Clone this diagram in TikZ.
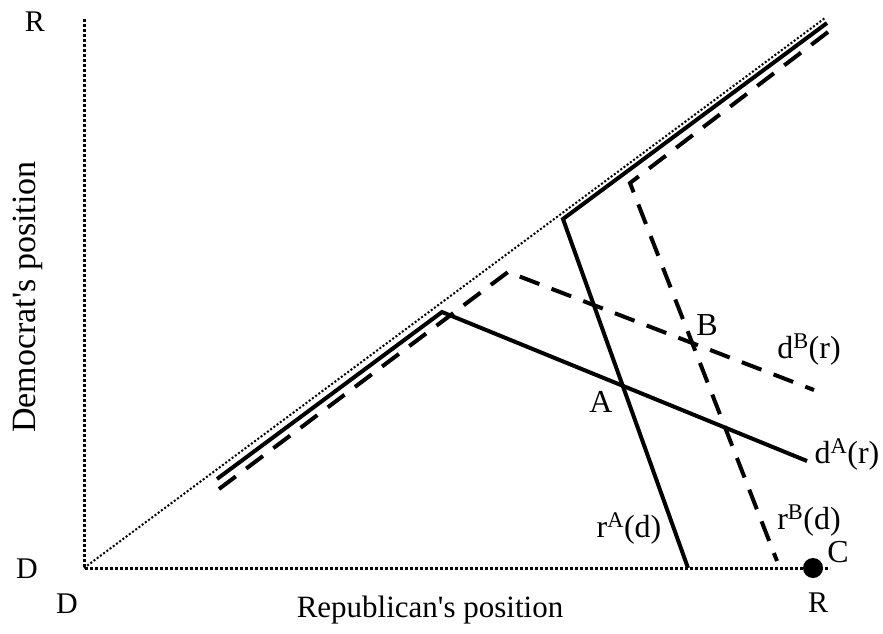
\documentclass[tikz,border=0pt]{standalone}
\usepackage{fontspec}
\setmainfont{Liberation Serif}[Ligatures=TeXOff]
\begin{document}
\begin{tikzpicture}[x=1pt,y=-1pt,
  axisline/.style={line width=3pt, dash pattern=on 3.2pt off 1.8pt},
  diagline/.style={line width=2pt, dash pattern=on 2pt off 2pt},
  bestsolid/.style={line width=4pt, line join=miter},
  bestdashed/.style={line width=4pt, dash pattern=on 21pt off 13pt},
  lbl/.style={inner sep=0pt, anchor=base, font=\fontsize{32}{34}\selectfont},
  cornerlbl/.style={inner sep=0pt, anchor=base, font=\fontsize{30}{32}\selectfont},
  axlbl/.style={inner sep=0pt, anchor=base, font=\fontsize{31}{34}\selectfont}]
\useasboundingbox (0,0) rectangle (883,633);
% axes
\coordinate (O) at (84,568);
\coordinate (Ytop) at (84,19);
\coordinate (Xend) at (830,568);
\coordinate (Dtop) at (825,18);
\draw[axisline] (Ytop) -- (O) -- (Xend);
\draw[diagline] (O) -- (Dtop);
% solid d^A(r)
\coordinate (a1) at (217,479);
\coordinate (a2) at (442,312);
\coordinate (a3) at (807,461);
\draw[bestsolid] (a1) -- (a2) -- (a3);
% solid r^A(d)
\coordinate (b1) at (827,23);
\coordinate (b2) at (563,219);
\coordinate (b3) at (688,568);
\draw[bestsolid] (b1) -- (b2) -- (b3);
% dashed d^B(r)
\coordinate (c1) at (219,489);
\coordinate (c2) at (508,272);
\coordinate (c3) at (814,390);
\draw[bestdashed] (c1) -- (c2) -- (c3);
% dashed r^B(d)
\coordinate (e1) at (828,32);
\coordinate (e2) at (630,183);
\coordinate (e3) at (777,561);
\draw[bestdashed] (e1) -- (e2) -- (e3);
% point C
\fill (813,568) circle (10pt);
% labels
\node[cornerlbl] (Rtop) at (35,31) {R};
\node[cornerlbl] (Dleft) at (27,578) {D};
\node[cornerlbl] (Dbot) at (67,613) {D};
\node[cornerlbl] (Rbot) at (818,612) {R};
\node[lbl] (Clbl) at (838,562) {C};
\node[lbl] (Albl) at (601,412) {A};
\node[lbl] (Blbl) at (707,335) {B};
\node[lbl] (dB) at (809,358) {d\textsuperscript{B}(r)};
\node[lbl] (dA) at (847,463) {d\textsuperscript{A}(r)};
\node[lbl] (rA) at (629,537) {r\textsuperscript{A}(d)};
\node[lbl] (rB) at (809,529) {r\textsuperscript{B}(d)};
\node[axlbl] (xlab) at (430,617) {Republican's position};
\node[axlbl, rotate=90, font=\fontsize{34}{36}\selectfont] (ylab) at (35,297) {Democrat's position};
\end{tikzpicture}
\end{document}
